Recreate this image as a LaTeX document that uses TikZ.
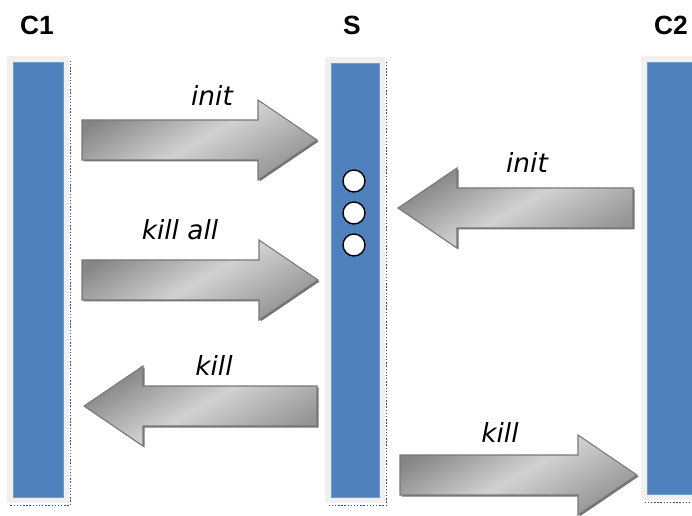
\documentclass[tikz,border=0pt]{standalone}
\usepackage{fontspec}
\newfontfamily\namefont{Liberation Sans}
\newfontfamily\msgfont{DejaVu Sans}[ItalicFont={DejaVu Sans Oblique}]
\usetikzlibrary{calc}
\definecolor{barBlue}{HTML}{4F81BD}
\definecolor{barHalo}{HTML}{F0F0F0}
\definecolor{barShadow}{HTML}{3C4C68}
\definecolor{arrowEdge}{HTML}{787878}

\tikzset{
  lifeline/.style={fill=barBlue, draw=barBlue!80!white, line width=0.3pt,
    preaction={draw=barHalo, line width=0.24cm}, minimum width=1cm, inner sep=0pt},
  partname/.style={font=\namefont\bfseries\fontsize{15}{18}\selectfont},
  msg/.style={font=\msgfont\itshape\fontsize{15}{18}\selectfont},
  arrowbody/.style={draw=arrowEdge, line width=0.6pt, line join=miter,
    top color=black!48, bottom color=black!42, middle color=black!18, shading angle=30,
    preaction={fill=black!55, transform canvas={shift={(1.5,1.5)}}}},
  queueslot/.style={circle, draw=black, line width=0.8pt, fill=white, minimum size=0.44cm, inner sep=0pt},
}

% big block arrow: tail x, tip x, centre y (pixel-ish units)
\newcommand{\fatarrow}[3]{%
  \pgfmathsetmacro{\headx}{#2-59*sign(#2-#1)}
  \path[arrowbody] (#1,#3-20) -- (\headx,#3-20) -- (\headx,#3-40) -- (#2,#3)
    -- (\headx,#3+40) -- (\headx,#3+20) -- (#1,#3+20) -- cycle;
}

\begin{document}
\begin{tikzpicture}[x=0.02cm, y=-0.02cm]
  \useasboundingbox (0,0) rectangle (692,516);

  % lifelines
  \node[lifeline, minimum height=8.7cm] (c1) at (38,279.5) {};
  \node[lifeline, minimum width=0.96cm, minimum height=8.68cm] (s) at (355,280) {};
  \node[lifeline, minimum height=8.64cm] (c2) at (672,278) {};
  \foreach \b in {c1,s,c2}
    \draw[barShadow, densely dotted, line width=0.8pt]
      ($(\b.north east)+(7,-1)$) -- ($(\b.south east)+(7,8)$) -- ($(\b.south west)+(-3,8)$);

  \node[partname] (c1name) at (37,25) {C1};
  \node[partname] (sname) at (352,25) {S};
  \node[partname] (c2name) at (671,25) {C2};

  % pending requests on the server
  \node[queueslot] (q1) at (354,181) {};
  \node[queueslot] (q2) at (354,213) {};
  \node[queueslot] (q3) at (354,245) {};

  % messages
  \fatarrow{82}{317}{140}
  \node[msg] (init1) at (212,95) {init};
  \fatarrow{633}{398}{208}
  \node[msg] (init2) at (527,162) {init};
  \fatarrow{82}{318}{280}
  \node[msg] (killall) at (180,230) {kill all};
  \fatarrow{317}{84}{406}
  \node[msg] (kill1) at (214,365) {kill};
  \fatarrow{400}{637}{475}
  \node[msg] (kill2) at (500,432) {kill};
\end{tikzpicture}
\end{document}
